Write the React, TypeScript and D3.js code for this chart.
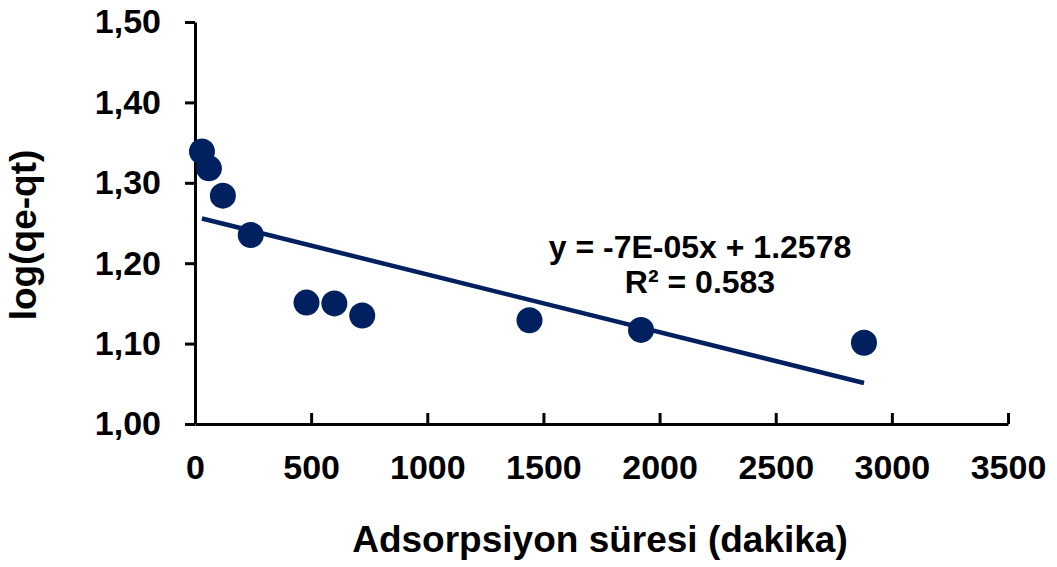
import { useEffect, useRef } from 'react';
import { select, axisLeft, axisBottom, scaleLinear, line, format } from 'd3';

// adsorption time (min) and log(qe-qt)
const times = [30, 60, 120, 240, 480, 600, 720, 1440, 1920, 2880];
const logValues = [1.339, 1.318, 1.284, 1.235, 1.151, 1.15, 1.135, 1.129, 1.117, 1.101];
const yTicks = [1.0, 1.1, 1.2, 1.3, 1.4, 1.5];
const xTicks = [0, 500, 1000, 1500, 2000, 2500, 3000, 3500];
const trend = { slope: -0.0000718, intercept: 1.2578 };
const equationLines = ['y = -7E-05x + 1.2578', 'R² = 0.583'];

const width = 1057;
const height = 567;
const margin = { top: 22, right: 49, bottom: 143, left: 195 };
const navy = '#002060';
const font = '"Liberation Sans", Arial, sans-serif';
const fmtY = (d: number) => format('.2f')(d).replace('.', ',');

export default function App() {
  const xAxisRef = useRef<SVGGElement>(null);
  const yAxisRef = useRef<SVGGElement>(null);

  const x = scaleLinear().domain([0, 3500]).range([margin.left, width - margin.right]);
  const y = scaleLinear().domain([1.0, 1.5]).range([height - margin.bottom, margin.top]);

  useEffect(() => {
    if (xAxisRef.current) {
      const g = select(xAxisRef.current);
      g.call(axisBottom(x).tickValues(xTicks).tickSizeInner(-11).tickSizeOuter(0).tickPadding(31).tickFormat((d) => String(d)));
      g.selectAll('path, line').attr('stroke', '#000').attr('stroke-width', 3);
      g.selectAll('text').attr('font-size', 34).attr('font-weight', 'bold').attr('font-family', font).attr('fill', '#000');
    }
    if (yAxisRef.current) {
      const g = select(yAxisRef.current);
      g.call(axisLeft(y).tickValues(yTicks).tickSizeInner(10).tickSizeOuter(0).tickPadding(24).tickFormat((d) => fmtY(d as number)));
      g.selectAll('path, line').attr('stroke', '#000').attr('stroke-width', 3);
      g.selectAll('text').attr('font-size', 34).attr('font-weight', 'bold').attr('font-family', font).attr('fill', '#000');
    }
  });

  const trendX = [times[0], times[times.length - 1]];
  const trendPath = line<number>()
    .x((d) => x(d))
    .y((d) => y(trend.intercept + trend.slope * d))(trendX);

  return (
    <svg width={width} height={height} style={{ position: 'absolute', left: 0, top: 0, background: '#fff' }}>
      <rect width={width} height={height} fill="#fff" />
      <g ref={xAxisRef} transform={`translate(0, ${y(1.0)})`} />
      <g ref={yAxisRef} transform={`translate(${x(0)}, 0)`} />
      <path d={trendPath ?? ''} fill="none" stroke={navy} strokeWidth={4.5} />
      {times.map((t, i) => (
        <circle key={i} cx={x(t)} cy={y(logValues[i])} r={13} fill={navy} />
      ))}
      <text x={700} fontFamily={font} fontWeight="bold" fontSize={32} textAnchor="middle" fill="#000">
        <tspan x={700} y={258}>{equationLines[0]}</tspan>
        <tspan x={700} y={293}>{equationLines[1]}</tspan>
      </text>
      <text x={600} y={552} fontFamily={font} fontWeight="bold" fontSize={37} textAnchor="middle" fill="#000">
        Adsorpsiyon süresi (dakika)
      </text>
      <text
        transform={`translate(36, 235) rotate(-90)`}
        fontFamily={font}
        fontWeight="bold"
        fontSize={37}
        textAnchor="middle"
        fill="#000"
      >
        log(qe-qt)
      </text>
    </svg>
  );
}
